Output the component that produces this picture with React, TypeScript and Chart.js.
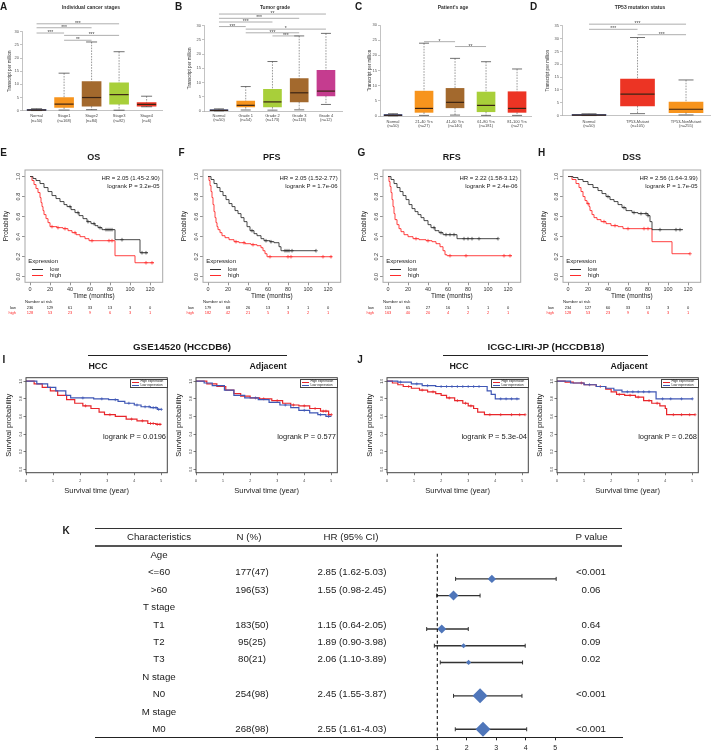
import React, { useEffect, useRef } from 'react';
import { Chart, registerables } from 'chart.js';

Chart.register(...registerables);
const FONT = "'Liberation Sans', Arial, Helvetica, sans-serif";
Chart.defaults.font.family = FONT;

/* ---------------- tick label lists ---------------- */
const tpmTicks30 = [0, 5, 10, 15, 20, 25, 30];
const tpmTicks35 = [0, 5, 10, 15, 20, 25, 30, 35];
const monthTicks = [0, 20, 40, 60, 80, 100, 120];
const probTicks = [0, 0.2, 0.4, 0.6, 0.8, 1.0];
const yearTicks = [0, 1, 2, 3, 4, 5];
const hrTicks = [1, 2, 3, 4, 5];

/* ---------------- A: cancer stages ---------------- */
const stageCats = [['Normal', '(n=50)'], ['Stage1', '(n=168)'], ['Stage2', '(n=84)'], ['Stage3', '(n=82)'], ['Stage4', '(n=6)']];
const stageLow = [0.05, 0.25, 0.4, 0.2, 1.5];
const stageQ1 = [0.1, 1.25, 1.75, 2.5, 1.75];
const stageMedian = [0.25, 2.5, 5.0, 6.1, 2.4];
const stageQ3 = [0.45, 5.0, 11.1, 10.6, 3.1];
const stageHigh = [0.75, 14.25, 26.1, 22.4, 5.5];
const stageSig = [[0, 3, 33, '***'], [0, 2, 31.5, '***'], [0, 1, 29.5, '***'], [1, 3, 28.6, '***'], [1, 2, 26.75, '**']];

/* ---------------- B: tumor grade ---------------- */
const gradeCats = [['Normal', '(n=50)'], ['Grade 1', '(n=54)'], ['Grade 2', '(n=173)'], ['Grade 3', '(n=118)'], ['Grade 4', '(n=12)']];
const gradeLow = [0.05, 0.35, 0.3, 0.4, 2.3];
const gradeQ1 = [0.1, 1.4, 1.4, 3.2, 5.3];
const gradeMedian = [0.25, 2.0, 3.2, 6.4, 7.0];
const gradeQ3 = [0.45, 3.5, 7.6, 11.4, 14.3];
const gradeHigh = [0.75, 8.6, 17.4, 26.4, 27.3];
const gradeSig = [[0, 4, 34.1, '**'], [0, 3, 32.6, '***'], [0, 2, 31.3, '***'], [0, 1, 29.7, '***'], [1, 4, 28.8, '*'], [1, 3, 27.5, '***'], [2, 3, 26.4, '***']];

/* ---------------- C: patient's age ---------------- */
const ageCats = [['Normal', '(n=50)'], ['21-40 Yrs', '(n=27)'], ['41-60 Yrs', '(n=140)'], ['61-80 Yrs', '(n=181)'], ['81-100 Yrs', '(n=27)']];
const ageLow = [0.05, 0.2, 0.3, 0.2, 0.2];
const ageQ1 = [0.1, 1.2, 2.7, 1.4, 1.2];
const ageMedian = [0.25, 2.5, 4.5, 3.5, 2.5];
const ageQ3 = [0.45, 8.2, 9.1, 7.9, 8.0];
const ageHigh = [0.75, 24.0, 19.0, 17.9, 15.5];
const ageSig = [[1, 2, 24.5, '*'], [2, 3, 22.9, '**']];

/* ---------------- D: TP53 status ---------------- */
const tp53Cats = [['Normal', '(n=50)'], ['TP53-Mutant', '(n=105)'], ['TP53-NonMutant', '(n=255)']];
const tp53Low = [0.05, 0.8, 0.3];
const tp53Q1 = [0.1, 3.8, 1.2];
const tp53Median = [0.25, 8.4, 2.5];
const tp53Q3 = [0.45, 14.2, 5.3];
const tp53High = [0.75, 30.4, 13.9];
const tp53Sig = [[0, 2, 35.6, '***'], [0, 1, 33.6, '***'], [1, 2, 31.5, '***']];

/* ---------------- E–H: KM plots (months) ---------------- */
const osLow = [[0, 1], [3, 0.98], [6, 0.96], [10, 0.93], [14, 0.89], [18, 0.85], [22, 0.81], [26, 0.78], [30, 0.75], [34, 0.72], [37, 0.7], [41, 0.67], [45, 0.64], [49, 0.61], [53, 0.58], [57, 0.55], [61, 0.53], [65, 0.51], [68, 0.49], [72, 0.47], [85, 0.37], [110, 0.24], [118, 0.24]];
const osHigh = [[0, 1], [2, 0.96], [4, 0.92], [6, 0.88], [8, 0.84], [10, 0.79], [11, 0.74], [12, 0.7], [13, 0.66], [14, 0.62], [16, 0.58], [18, 0.54], [20, 0.5], [27, 0.49], [33, 0.48], [38, 0.46], [42, 0.44], [46, 0.42], [50, 0.4], [55, 0.38], [59, 0.36], [85, 0.21], [105, 0.14], [124, 0.14]];
const osLowCens = [40, 48, 58, 64, 70, 76, 78, 80, 82, 92, 112, 116];
const osHighCens = [22, 28, 35, 45, 62, 79, 82, 116, 122];
const osRiskLow = [236, 129, 61, 33, 13, 3, 0];
const osRiskHigh = [128, 53, 23, 9, 6, 3, 1];

const pfsLow = [[0, 1], [3, 0.97], [6, 0.93], [9, 0.89], [12, 0.85], [15, 0.81], [18, 0.77], [21, 0.73], [24, 0.7], [27, 0.66], [30, 0.63], [33, 0.59], [36, 0.55], [39, 0.5], [42, 0.46], [46, 0.43], [49, 0.41], [53, 0.38], [56, 0.36], [62, 0.35], [66, 0.34], [71, 0.3], [73, 0.26], [108, 0.26]];
const pfsHigh = [[0, 1], [1, 0.96], [2, 0.91], [3, 0.85], [4, 0.79], [5, 0.72], [6, 0.65], [7, 0.59], [8, 0.54], [9, 0.5], [10, 0.47], [12, 0.44], [14, 0.41], [17, 0.39], [21, 0.37], [26, 0.35], [31, 0.34], [37, 0.33], [43, 0.32], [49, 0.31], [53, 0.29], [55, 0.26], [57, 0.23], [59, 0.2], [124, 0.2]];
const pfsLowCens = [44, 58, 63, 77, 79, 81, 84, 108];
const pfsHighCens = [28, 36, 45, 62, 80, 83, 115, 123];
const pfsRiskLow = [179, 68, 26, 13, 3, 1, 0];
const pfsRiskHigh = [182, 42, 21, 5, 3, 2, 1];

const rfsLow = [[0, 1], [3, 0.97], [6, 0.93], [9, 0.89], [12, 0.85], [15, 0.81], [18, 0.77], [21, 0.72], [24, 0.68], [27, 0.65], [30, 0.62], [33, 0.59], [36, 0.56], [40, 0.52], [43, 0.49], [47, 0.46], [51, 0.44], [55, 0.42], [69, 0.38], [110, 0.38]];
const rfsHigh = [[0, 1], [1, 0.95], [2, 0.9], [3, 0.84], [4, 0.77], [5, 0.7], [6, 0.63], [7, 0.57], [9, 0.52], [11, 0.48], [13, 0.45], [16, 0.42], [20, 0.4], [25, 0.38], [31, 0.37], [38, 0.36], [44, 0.35], [48, 0.33], [52, 0.3], [55, 0.26], [57, 0.22], [59, 0.21], [124, 0.21]];
const rfsLowCens = [46, 53, 58, 62, 66, 76, 80, 84, 91, 110];
const rfsHighCens = [28, 40, 62, 78, 116, 122];
const rfsRiskLow = [153, 65, 27, 16, 5, 1, 0];
const rfsRiskHigh = [163, 40, 20, 4, 2, 2, 1];

const dssLow = [[0, 1], [5, 0.99], [10, 0.97], [15, 0.95], [20, 0.92], [25, 0.89], [30, 0.86], [34, 0.83], [38, 0.8], [42, 0.77], [46, 0.75], [50, 0.72], [54, 0.69], [58, 0.66], [64, 0.64], [70, 0.63], [80, 0.61], [82, 0.55], [84, 0.47], [115, 0.47]];
const dssHigh = [[0, 1], [4, 0.97], [8, 0.93], [11, 0.89], [13, 0.85], [15, 0.8], [17, 0.76], [19, 0.73], [21, 0.7], [22, 0.66], [24, 0.62], [26, 0.59], [29, 0.57], [33, 0.55], [38, 0.53], [43, 0.51], [50, 0.5], [55, 0.48], [84, 0.35], [104, 0.23], [122, 0.23]];
const dssLowCens = [40, 56, 66, 73, 78, 80, 92, 108, 112];
const dssHighCens = [20, 36, 47, 60, 76, 80, 122];
const dssRiskLow = [234, 127, 60, 33, 13, 3, 0];
const dssRiskHigh = [128, 53, 23, 9, 6, 3, 1];

/* ---------------- I, J: HCCDB KM plots (years) ---------------- */
const iHccHigh = [[0, 1], [0.3, 0.97], [0.6, 0.93], [0.9, 0.89], [1.17, 0.84], [1.5, 0.79], [1.8, 0.75], [2.1, 0.72], [2.4, 0.69], [2.7, 0.65], [2.9, 0.62], [3.3, 0.6], [3.7, 0.57], [4.1, 0.55], [4.5, 0.52], [4.8, 0.51], [5.0, 0.51]];
const iHccLow = [[0, 1], [0.4, 0.97], [0.8, 0.93], [1.1, 0.89], [1.47, 0.84], [1.65, 0.81], [2.5, 0.8], [3.05, 0.79], [3.4, 0.77], [3.65, 0.75], [4.0, 0.73], [4.25, 0.71], [4.6, 0.7], [4.85, 0.68], [5.0, 0.68]];
const iHccHighCens = [2.2, 3.1, 3.9, 4.3, 4.6, 4.7, 4.85, 4.95];
const iHccLowCens = [2.1, 2.8, 3.3, 3.8, 4.1, 4.4, 4.55, 4.7, 4.8, 4.9, 5.0];

const iAdjHigh = [[0, 1], [0.4, 0.97], [0.77, 0.94], [1.1, 0.9], [1.4, 0.86], [1.65, 0.83], [2.0, 0.81], [2.35, 0.8], [2.8, 0.78], [3.2, 0.75], [3.5, 0.73], [3.8, 0.72], [4.2, 0.69], [4.6, 0.66], [4.9, 0.62], [5.0, 0.62]];
const iAdjLow = [[0, 1], [0.3, 0.98], [0.6, 0.95], [1.05, 0.9], [1.4, 0.84], [1.8, 0.81], [2.3, 0.79], [2.7, 0.76], [3.1, 0.73], [3.5, 0.7], [3.8, 0.67], [4.2, 0.64], [4.5, 0.62], [4.8, 0.6], [5.0, 0.6]];
const iAdjHighCens = [2.5, 3.0, 3.6, 4.0, 4.4, 4.7, 4.8, 4.9, 5.0];
const iAdjLowCens = [2.2, 3.3, 4.0, 4.6, 4.9];

const jHccHigh = [[0, 1], [0.2, 0.98], [0.4, 0.96], [0.6, 0.94], [0.9, 0.92], [1.2, 0.9], [1.5, 0.88], [1.8, 0.86], [2.0, 0.84], [2.2, 0.81], [2.5, 0.78], [2.8, 0.75], [3.0, 0.72], [3.2, 0.69], [3.35, 0.65], [3.6, 0.62], [5.1, 0.62]];
const jHccLow = [[0, 1], [0.4, 0.99], [0.9, 0.97], [1.3, 0.95], [1.8, 0.94], [3.6, 0.94], [3.7, 0.89], [3.85, 0.85], [4.0, 0.8], [4.9, 0.8]];
const jHccHighCens = [0.8, 1.3, 1.7, 2.3, 2.6, 2.9, 3.1, 3.8, 4.2, 4.6, 4.9, 5.1];
const jHccLowCens = [0.5, 1.1, 1.5, 2.0, 2.2, 2.4, 2.6, 2.8, 3.0, 3.2, 3.4, 4.2, 4.4, 4.6, 4.8];

const jAdjHigh = [[0, 1], [0.3, 0.99], [0.6, 0.98], [1.0, 0.96], [1.45, 0.94], [1.8, 0.91], [2.0, 0.88], [2.2, 0.85], [2.5, 0.84], [2.9, 0.82], [3.2, 0.78], [3.5, 0.75], [3.8, 0.72], [4.0, 0.69], [4.05, 0.62], [5.1, 0.62]];
const jAdjLow = [[0, 1], [0.5, 0.98], [1.0, 0.96], [1.45, 0.94], [1.8, 0.92], [2.1, 0.9], [2.4, 0.88], [3.64, 0.88], [3.66, 0.8], [5.0, 0.8]];
const jAdjHighCens = [0.9, 1.6, 2.3, 2.7, 3.0, 3.4, 3.7, 4.3, 4.6, 4.9, 5.1];
const jAdjLowCens = [1.2, 2.6, 2.8, 3.0, 3.2, 3.4, 3.9, 4.2, 4.6, 5.0];

/* ---------------- K: forest table ---------------- */
const forestRows = ['Age', '<=60', '>60', 'T stage', 'T1', 'T2', 'T3', 'N stage', 'N0', 'M stage', 'M0'];
const forestRowIdx = [1, 2, 4, 5, 6, 8, 10];
const forestN = [177, 196, 183, 95, 80, 254, 268];
const forestPct = [47, 53, 50, 25, 21, 98, 98];
const forestHR = [2.85, 1.55, 1.15, 1.89, 2.06, 2.45, 2.55];
const forestLo = [1.62, 0.98, 0.64, 0.9, 1.1, 1.55, 1.61];
const forestHi = [5.03, 2.45, 2.05, 3.98, 3.89, 3.87, 4.03];
const forestP = ['<0.001', '0.06', '0.64', '0.09', '0.02', '<0.001', '<0.001'];

/* ---------------- styles ---------------- */
const NAVY = '#1f3c8f', ORANGE = '#f7941d', BROWN = '#a3692d', LIME = '#a8cf3a', RED = '#ec3424', MAGENTA = '#c53c8f';
const forestMarkerRadius = [4.2, 5, 4.5, 2.6, 2.6, 7.5, 7.5];

function stepAt(pts: number[][], t: number) {
  let s = pts[0][1];
  for (const [pt, ps] of pts) { if (pt <= t) s = ps; else break; }
  return s;
}

function ChartCanvas({ cv, make }: any) {
  const ref = useRef<HTMLCanvasElement | null>(null);
  useEffect(() => {
    const chart = new Chart(ref.current as HTMLCanvasElement, make());
    return () => chart.destroy();
  }, []);
  return <canvas ref={ref} width={cv.w} height={cv.h} style={{ position: 'absolute', left: cv.x, top: cv.y, width: cv.w, height: cv.h }} />;
}

const T = ({ x, y, s, b, c, a = 'center', children }: any) => (
  <div style={{
    position: 'absolute', left: x, top: y,
    transform: `translate(${a === 'center' ? '-50%' : a === 'right' ? '-100%' : '0'}, -50%)`,
    fontSize: s, fontWeight: b ? 'bold' : 'normal', color: c || '#1a1a1a', fontFamily: FONT,
    lineHeight: 1, whiteSpace: 'nowrap',
  }}>{children}</div>
);

const segment = (ctx: any, x1: number, y1: number, x2: number, y2: number) => {
  ctx.beginPath(); ctx.moveTo(x1, y1); ctx.lineTo(x2, y2); ctx.stroke();
};

/* ---------------- box plot config ---------------- */
function boxConfig(p: any) {
  const { cv, area } = p;
  const decor = {
    id: 'boxDecor',
    afterDatasetsDraw(chart: any) {
      const ctx = chart.ctx;
      const X = (v: number) => chart.scales.x.getPixelForValue(v);
      const Y = (v: number) => chart.scales.y.getPixelForValue(v);
      ctx.save();
      p.q1.forEach((q1: number, i: number) => {
        const cx = X(i);
        ctx.strokeStyle = '#555'; ctx.lineWidth = 0.6; ctx.setLineDash([1.6, 1.2]);
        segment(ctx, cx, Y(p.hi[i]), cx, Y(p.q3[i]));
        segment(ctx, cx, Y(q1), cx, Y(p.lo[i]));
        ctx.setLineDash([]);
        ctx.strokeStyle = '#333'; ctx.lineWidth = 0.7;
        segment(ctx, cx - p.cap / 2, Y(p.hi[i]), cx + p.cap / 2, Y(p.hi[i]));
        segment(ctx, cx - p.cap / 2, Y(p.lo[i]), cx + p.cap / 2, Y(p.lo[i]));
        ctx.strokeStyle = '#3b2414'; ctx.lineWidth = 1.2;
        segment(ctx, cx - p.boxW / 2, Y(p.med[i]), cx + p.boxW / 2, Y(p.med[i]));
      });
      ctx.strokeStyle = '#777'; ctx.lineWidth = 0.6;
      ctx.fillStyle = '#444'; ctx.font = `5px ${FONT}`; ctx.textAlign = 'center'; ctx.textBaseline = 'alphabetic';
      p.sig.forEach(([a, b, v, lab]: any) => {
        const y = Y(v);
        segment(ctx, X(a), y, X(b), y);
        ctx.fillText(lab, (X(a) + X(b)) / 2, y + 1);
      });
      ctx.restore();
    },
  };
  return {
    type: 'bar',
    data: {
      datasets: [{
        data: p.q1.map((q: number, i: number) => ({ x: i, y: [q, p.q3[i]] })),
        backgroundColor: p.colors, borderWidth: 0, barThickness: p.boxW,
      }],
    },
    options: {
      animation: false, responsive: false, devicePixelRatio: 1,
      layout: { padding: { left: 0, top: area.t - cv.y, right: cv.x + cv.w - area.r, bottom: 0 } },
      plugins: { legend: { display: false }, tooltip: { enabled: false } },
      scales: {
        x: {
          type: 'linear', offset: false, min: p.xr[0], max: p.xr[1],
          afterBuildTicks: (ax: any) => { ax.ticks = p.cats.map((_: any, i: number) => ({ value: i })); },
          afterFit: (ax: any) => { ax.height = cv.y + cv.h - area.b; },
          grid: { display: false, drawTicks: false, tickLength: 0, offset: false },
          border: { display: true, color: '#9a9a9a', width: 0.6 },
          ticks: { callback: (v: number) => p.cats[Math.round(v)], font: { size: 4, lineHeight: 1.15 }, color: '#444', padding: p.xPad, autoSkip: false, maxRotation: 0, minRotation: 0 },
        },
        y: {
          min: 0, max: p.ticks[p.ticks.length - 1],
          afterBuildTicks: (ax: any) => { ax.ticks = p.ticks.map((v: number) => ({ value: v })); },
          afterFit: (ax: any) => { ax.width = area.l - cv.x; },
          grid: { display: true, drawOnChartArea: false, drawTicks: true, tickLength: 2, color: '#9a9a9a', lineWidth: 0.6 },
          border: { display: true, color: '#9a9a9a', width: 0.6 },
          ticks: { font: { size: 4, lineHeight: 1 }, color: '#555', padding: 1 },
          title: { display: true, text: 'Transcript per million', color: '#333', font: { size: 4.5, lineHeight: 1 }, padding: { top: p.yTitleX - cv.x - 2.25, bottom: 0 } },
        },
      },
    },
    plugins: [decor],
  };
}

/* ---------------- KM config ---------------- */
function kmConfig(o: any) {
  const { cv, area } = o;
  const datasets: any[] = [];
  o.curves.forEach((c: any) => datasets.push({
    data: c.pts.map(([t, s]: number[]) => ({ x: t, y: s })), showLine: true, stepped: true,
    borderColor: c.color, borderWidth: o.lw, pointRadius: 0, fill: false,
  }));
  o.curves.forEach((c: any) => datasets.push({
    data: c.cens.map((t: number) => ({ x: t, y: stepAt(c.pts, t) })), showLine: false,
    pointStyle: 'cross', pointRadius: o.censR, borderColor: c.color, borderWidth: 0.7,
  }));
  const frame = {
    id: 'frame',
    afterDraw(chart: any) {
      const { ctx, chartArea: a } = chart;
      ctx.save(); ctx.strokeStyle = o.frameColor; ctx.lineWidth = o.frameW;
      ctx.strokeRect(a.left, a.top, a.right - a.left, a.bottom - a.top);
      ctx.restore();
    },
  };
  return {
    type: 'scatter',
    data: { datasets },
    options: {
      animation: false, responsive: false, devicePixelRatio: 1,
      layout: { padding: { left: 0, top: area.t - cv.y, right: cv.x + cv.w - area.r, bottom: 0 } },
      plugins: { legend: { display: false }, tooltip: { enabled: false } },
      scales: {
        x: {
          type: 'linear', min: o.xr[0], max: o.xr[1],
          afterBuildTicks: (ax: any) => { ax.ticks = o.xTicks.map((v: number) => ({ value: v })); },
          afterFit: (ax: any) => { ax.height = cv.y + cv.h - area.b; },
          grid: { display: true, drawOnChartArea: false, drawTicks: true, tickLength: o.tickLen, color: o.tickColor, lineWidth: 0.7 },
          border: { display: false },
          ticks: { callback: (v: number) => String(v), font: { size: o.tickFont, lineHeight: 1 }, color: '#333', padding: o.xPad, autoSkip: false, maxRotation: 0, minRotation: 0 },
          title: { display: true, text: o.xTitle, color: '#222', font: { size: o.titleFont, lineHeight: 1 }, padding: { top: 0, bottom: o.xTitlePad } },
        },
        y: {
          min: o.yr[0], max: o.yr[1],
          afterBuildTicks: (ax: any) => { ax.ticks = probTicks.map((v: number) => ({ value: v })); },
          afterFit: (ax: any) => { ax.width = area.l - cv.x; },
          grid: { display: true, drawOnChartArea: false, drawTicks: true, tickLength: o.tickLen, color: o.tickColor, lineWidth: 0.7 },
          border: { display: false },
          ticks: { callback: (v: number) => v.toFixed(1), font: { size: o.tickFont, lineHeight: 1 }, color: '#333', padding: o.yPad, minRotation: 90, maxRotation: 90, crossAlign: 'center' },
          title: { display: true, text: o.yTitle, color: '#222', font: { size: o.titleFont, lineHeight: 1 }, padding: { top: o.yTitlePad, bottom: 0 } },
        },
      },
    },
    plugins: [frame],
  };
}

/* ---------------- forest config ---------------- */
function forestConfig(cv: any, area: any) {
  const ci = {
    id: 'ci',
    beforeDatasetsDraw(chart: any) {
      const ctx = chart.ctx;
      const X = (v: number) => chart.scales.x.getPixelForValue(v);
      const Y = (v: number) => chart.scales.y.getPixelForValue(v);
      ctx.save(); ctx.strokeStyle = '#333'; ctx.lineWidth = 1.4;
      forestHR.forEach((_, i) => {
        const y = Y(forestRowIdx[i]);
        segment(ctx, X(forestLo[i]), y, X(forestHi[i]), y);
        ctx.lineWidth = 1;
        segment(ctx, X(forestLo[i]), y - 2, X(forestLo[i]), y + 2);
        segment(ctx, X(forestHi[i]), y - 2, X(forestHi[i]), y + 2);
        ctx.lineWidth = 1.4;
      });
      ctx.restore();
    },
  };
  return {
    type: 'scatter',
    data: {
      datasets: [
        { data: [{ x: 1, y: -0.52 }, { x: 1, y: 10.48 }], showLine: true, borderColor: '#111', borderWidth: 1.1, borderDash: [3.2, 2.6], pointRadius: 0 },
        { data: forestHR.map((h, i) => ({ x: h, y: forestRowIdx[i] })), pointStyle: 'rectRot', pointRadius: forestMarkerRadius, backgroundColor: '#4f76ba', borderColor: '#4f76ba', borderWidth: 0 },
      ],
    },
    options: {
      animation: false, responsive: false, devicePixelRatio: 1,
      layout: { padding: { left: area.l - cv.x, top: area.t - cv.y, right: cv.x + cv.w - area.r, bottom: 0 } },
      plugins: { legend: { display: false }, tooltip: { enabled: false } },
      scales: {
        x: {
          type: 'linear', min: 0, max: 5.3,
          afterBuildTicks: (ax: any) => { ax.ticks = hrTicks.map((v) => ({ value: v })); },
          afterFit: (ax: any) => { ax.height = cv.y + cv.h - area.b; },
          grid: { display: true, drawOnChartArea: false, drawTicks: true, tickLength: 3, color: '#222', lineWidth: 1 },
          border: { display: false },
          ticks: { font: { size: 7, lineHeight: 1 }, color: '#222', padding: 3.9, autoSkip: false, maxRotation: 0 },
        },
        y: { display: false, min: -0.52, max: 10.48, reverse: true },
      },
    },
    plugins: [ci],
  };
}

/* ---------------- panel layouts ---------------- */
const boxPanels = [
  { letter: 'A', title: 'Individual cancer stages', cats: stageCats, lo: stageLow, q1: stageQ1, med: stageMedian, q3: stageQ3, hi: stageHigh, sig: stageSig, ticks: tpmTicks30,
    colors: [NAVY, ORANGE, BROWN, LIME, RED], cv: { x: 0, y: 0, w: 175, h: 130 }, area: { l: 22, t: 31.7, r: 162, b: 110.7 }, xr: [-0.53, 4.56], boxW: 19, cap: 11, xPad: 2.9, yTitleX: 10, titleX: 91, lx: 3.7 },
  { letter: 'B', title: 'Tumor grade', cats: gradeCats, lo: gradeLow, q1: gradeQ1, med: gradeMedian, q3: gradeQ3, hi: gradeHigh, sig: gradeSig, ticks: tpmTicks30,
    colors: [NAVY, ORANGE, LIME, BROWN, MAGENTA], cv: { x: 175, y: 0, w: 180, h: 130 }, area: { l: 204, t: 25.7, r: 342, b: 111 }, xr: [-0.56, 4.6], boxW: 18, cap: 10, xPad: 2.3, yTitleX: 190, titleX: 275, lx: 178.5 },
  { letter: 'C', title: "Patient's age", cats: ageCats, lo: ageLow, q1: ageQ1, med: ageMedian, q3: ageQ3, hi: ageHigh, sig: ageSig, ticks: tpmTicks30,
    colors: [NAVY, ORANGE, BROWN, LIME, RED], cv: { x: 355, y: 0, w: 180, h: 130 }, area: { l: 380, t: 25, r: 531, b: 116 }, xr: [-0.42, 4.45], boxW: 18, cap: 10, xPad: 3.3, yTitleX: 370, titleX: 453, lx: 358.5 },
  { letter: 'D', title: 'TP53 mutation status', cats: tp53Cats, lo: tp53Low, q1: tp53Q1, med: tp53Median, q3: tp53Q3, hi: tp53High, sig: tp53Sig, ticks: tpmTicks35,
    colors: [NAVY, RED, ORANGE], cv: { x: 530, y: 0, w: 181, h: 130 }, area: { l: 562, t: 25.7, r: 711, b: 115.7 }, xr: [-0.557, 2.515], boxW: 34, cap: 15, xPad: 3.6, yTitleX: 548, titleX: 640, lx: 533.5 },
];

const kmPanels = [
  { letter: 'E', title: 'OS', hr: 'HR = 2.05 (1.45-2.90)', lr: 'logrank P = 3.2e-05', low: osLow, high: osHigh, lowCens: osLowCens, highCens: osHighCens, riskLow: osRiskLow, riskHigh: osRiskHigh },
  { letter: 'F', title: 'PFS', hr: 'HR = 2.05 (1.52-2.77)', lr: 'logrank P = 1.7e-06', low: pfsLow, high: pfsHigh, lowCens: pfsLowCens, highCens: pfsHighCens, riskLow: pfsRiskLow, riskHigh: pfsRiskHigh },
  { letter: 'G', title: 'RFS', hr: 'HR = 2.22 (1.58-3.12)', lr: 'logrank P = 2.4e-06', low: rfsLow, high: rfsHigh, lowCens: rfsLowCens, highCens: rfsHighCens, riskLow: rfsRiskLow, riskHigh: rfsRiskHigh },
  { letter: 'H', title: 'DSS', hr: 'HR = 2.56 (1.64-3.99)', lr: 'logrank P = 1.7e-05', low: dssLow, high: dssHigh, lowCens: dssLowCens, highCens: dssHighCens, riskLow: dssRiskLow, riskHigh: dssRiskHigh },
];
const KM_OX = [0, 178, 358, 538];
const KM_XR = [-5, 132.7];

const ijPanels = [
  { title: 'HCC', lr: 'logrank P = 0.0196', high: iHccHigh, low: iHccLow, highCens: iHccHighCens, lowCens: iHccLowCens },
  { title: 'Adjacent', lr: 'logrank P = 0.577', high: iAdjHigh, low: iAdjLow, highCens: iAdjHighCens, lowCens: iAdjLowCens },
  { title: 'HCC', lr: 'logrank P = 5.3e-04', high: jHccHigh, low: jHccLow, highCens: jHccHighCens, lowCens: jHccLowCens },
  { title: 'Adjacent', lr: 'logrank P = 0.268', high: jAdjHigh, low: jAdjLow, highCens: jAdjHighCens, lowCens: jAdjLowCens },
];
const IJ_OX = [0, 170, 361, 531];
const IJ_RED = '#e8262b', IJ_BLUE = '#3f57b5';

export default function App() {
  useEffect(() => { document.body.style.margin = '0'; }, []);
  const forestCv = { x: 400, y: 546, w: 172, h: 205 };
  const forestArea = { l: 407.8, t: 546, r: 407.8 + 5.3 * 29.5, b: 737.3 };
  const rowY = (i: number) => 546 + (i + 0.52) * ((737.3 - 546) / 11);
  return (
    <div style={{ position: 'absolute', left: 0, top: 0, width: 711, height: 751, background: '#fff', overflow: 'hidden', fontFamily: FONT }}>
      {/* A–D */}
      {boxPanels.map((p) => (
        <React.Fragment key={p.letter}>
          <ChartCanvas cv={p.cv} make={() => boxConfig(p)} />
          <T x={p.lx} y={6.7} s={10} b>{p.letter}</T>
          <T x={p.titleX} y={7} s={5} b c="#333">{p.title}</T>
        </React.Fragment>
      ))}

      {/* E–H */}
      {kmPanels.map((p, k) => {
        const ox = KM_OX[k];
        const cv = { x: ox, y: 140, w: 178, h: 160 };
        const area = { l: ox + 25, t: 170, r: ox + 162.7, b: 282.3 };
        const px = (t: number) => area.l + (t - KM_XR[0]) * (area.r - area.l) / (KM_XR[1] - KM_XR[0]);
        return (
          <React.Fragment key={p.letter}>
            <ChartCanvas cv={cv} make={() => kmConfig({
              cv, area, xr: KM_XR, yr: [-0.055, 1.065], xTicks: monthTicks,
              curves: [{ pts: p.low, cens: p.lowCens, color: '#333' }, { pts: p.high, cens: p.highCens, color: '#ff2b2b' }],
              lw: 0.9, censR: 1.8, frameColor: '#a8a8a8', frameW: 1, tickColor: '#666', tickLen: 3, tickFont: 5.5, titleFont: 6.5,
              xTitle: 'Time (months)', yTitle: 'Probability', xPad: 1.25, yPad: 0, xTitlePad: 0.75, yTitlePad: 2.75,
            })} />
            <T x={ox + 3.5} y={153} s={10} b>{p.letter}</T>
            <T x={(area.l + area.r) / 2} y={157} s={9} b>{p.title}</T>
            <T x={area.r - 3} y={177.7} s={6} a="right">{p.hr}</T>
            <T x={area.r - 3} y={186} s={6} a="right">{p.lr}</T>
            <T x={area.l + 3.3} y={260.7} s={6} a="left">Expression</T>
            <div style={{ position: 'absolute', left: area.l + 6.7, top: 268.5, width: 11.6, height: 1, background: '#333' }} />
            <div style={{ position: 'absolute', left: area.l + 6.7, top: 274.8, width: 11.6, height: 1, background: '#ff2b2b' }} />
            <T x={area.l + 25} y={269} s={6} a="left">low</T>
            <T x={area.l + 25} y={275.3} s={6} a="left">high</T>
            <T x={area.l} y={301.7} s={4.2} a="left">Number at risk</T>
            <T x={ox + 16} y={308.3} s={4} a="right">low</T>
            <T x={ox + 16} y={312.7} s={4} a="right" c="#ff2b2b">high</T>
            {monthTicks.map((t, i) => (
              <React.Fragment key={t}>
                <T x={px(t)} y={308.3} s={4}>{p.riskLow[i]}</T>
                <T x={px(t)} y={312.7} s={4} c="#ff2b2b">{p.riskHigh[i]}</T>
              </React.Fragment>
            ))}
          </React.Fragment>
        );
      })}

      {/* I, J headers */}
      <T x={4} y={360} s={10} b>I</T>
      <T x={360} y={360} s={10} b>J</T>
      <T x={182} y={347} s={9.8} b>GSE14520 (HCCDB6)</T>
      <div style={{ position: 'absolute', left: 88, top: 355.2, width: 199, height: 1.2, background: '#222' }} />
      <T x={546} y={347} s={9.8} b>ICGC-LIRI-JP (HCCDB18)</T>
      <div style={{ position: 'absolute', left: 443, top: 355.2, width: 205, height: 1.2, background: '#222' }} />

      {ijPanels.map((p, k) => {
        const ox = IJ_OX[k];
        const cv = { x: ox, y: 372, w: 172, h: 125 };
        const area = { l: ox + 26, t: 377.7, r: ox + 170, b: 472.7 };
        const lg = { x: area.r - 40, y: 379 };
        return (
          <React.Fragment key={k}>
            <ChartCanvas cv={cv} make={() => kmConfig({
              cv, area, xr: [0, 5.22], yr: [-0.039, 1.04], xTicks: yearTicks,
              curves: [{ pts: p.low, cens: p.lowCens, color: IJ_BLUE }, { pts: p.high, cens: p.highCens, color: IJ_RED }],
              lw: 1.2, censR: 1.5, frameColor: '#444', frameW: 1, tickColor: '#444', tickLen: 2.5, tickFont: 3.5, titleFont: 7.5,
              xTitle: 'Survival time (year)', yTitle: 'Survival probability', xPad: 3.75, yPad: 0.4, xTitlePad: 2.25, yTitlePad: 5.25,
            })} />
            <T x={(area.l + area.r) / 2} y={366} s={8.8} b>{p.title}</T>
            <T x={area.r - 4} y={437} s={7.5} a="right">{p.lr}</T>
            <div style={{ position: 'absolute', left: lg.x, top: lg.y, width: 38, height: 9, border: '0.6px solid #444', background: '#fff', boxSizing: 'border-box' }} />
            <div style={{ position: 'absolute', left: lg.x + 2, top: lg.y + 2.6, width: 7, height: 1, background: IJ_RED }} />
            <div style={{ position: 'absolute', left: lg.x + 2, top: lg.y + 6.4, width: 7, height: 1, background: IJ_BLUE }} />
            <T x={lg.x + 10.5} y={lg.y + 3} s={3.2} a="left">High expression</T>
            <T x={lg.x + 10.5} y={lg.y + 6.8} s={3.2} a="left">Low expression</T>
          </React.Fragment>
        );
      })}

      {/* K */}
      <T x={66} y={531} s={10} b>K</T>
      <div style={{ position: 'absolute', left: 95, top: 527.6, width: 527, height: 1.4, background: '#333' }} />
      <div style={{ position: 'absolute', left: 95, top: 544.8, width: 527, height: 2.4, background: '#555' }} />
      <div style={{ position: 'absolute', left: 95, top: 736.6, width: 528, height: 1.5, background: '#222' }} />
      <T x={159} y={537.3} s={9.7}>Characteristics</T>
      <T x={249} y={537.3} s={9.7}>N (%)</T>
      <T x={351} y={537.3} s={9.7}>HR (95% CI)</T>
      <T x={591.5} y={537.3} s={9.7}>P value</T>
      {forestRows.map((r, i) => <T key={r} x={159} y={rowY(i)} s={9.7}>{r}</T>)}
      {forestRowIdx.map((ri, i) => (
        <React.Fragment key={ri}>
          <T x={252} y={rowY(ri)} s={9.7}>{`${forestN[i]}(${forestPct[i]})`}</T>
          <T x={352} y={rowY(ri)} s={9.7}>{`${forestHR[i].toFixed(2)} (${forestLo[i].toFixed(2)}-${forestHi[i].toFixed(2)})`}</T>
          <T x={591} y={rowY(ri)} s={9.7}>{forestP[i]}</T>
        </React.Fragment>
      ))}
      <ChartCanvas cv={forestCv} make={() => forestConfig(forestCv, forestArea)} />
    </div>
  );
}
